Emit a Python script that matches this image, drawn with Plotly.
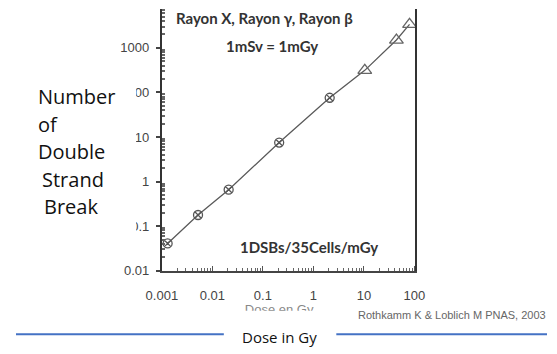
import plotly.graph_objects as go

# ---- data ----
circle_dose = [0.0013, 0.0052, 0.021, 0.21, 2.1]
circle_dsb = [0.041, 0.178, 0.66, 7.5, 76]
triangle_dose = [10.4, 44, 80]
triangle_dsb = [313, 1500, 3360]

x_tickvals = [0.001, 0.01, 0.1, 1, 10, 100]
x_ticktext = ["0.001", "0.01", "0.1", "1", "10", "100"]
y_tickvals = [0.01, 0.1, 1, 10, 100, 1000]
y_ticktext = ["0.01", "0.1", "1", "10", "100", "1000"]

W, H = 557, 354


def px(x):
    return x / W


def py(y):
    return 1 - y / H


line_x = circle_dose + triangle_dose
line_y = circle_dsb + triangle_dsb

fig = go.Figure()
fig.add_trace(go.Scatter(x=line_x, y=line_y, mode="lines",
                         line=dict(color="#5a5a5a", width=1.3),
                         showlegend=False, hoverinfo="skip"))
fig.add_trace(go.Scatter(x=circle_dose, y=circle_dsb, mode="markers",
                         marker=dict(symbol="circle-x-open", size=9,
                                     color="#555555", line=dict(width=1.3)),
                         showlegend=False))
fig.add_trace(go.Scatter(x=triangle_dose, y=triangle_dsb, mode="markers",
                         marker=dict(symbol="triangle-up-open", size=12,
                                     color="#666666", line=dict(width=1.3)),
                         showlegend=False))

# the original figure's x-axis title, cut off by the scan (clipped in a small hidden subplot)
fig.add_trace(go.Scatter(x=[0.5], y=[0], mode="text", text=["Dose en Gy"],
                         textposition="middle center", cliponaxis=True,
                         textfont=dict(family="Liberation Sans, Arial, sans-serif",
                                       size=13, color="#888888"),
                         xaxis="x2", yaxis="y2", showlegend=False, hoverinfo="skip"))

# minor tick positions (2..9 within each decade)
x_minor = [k * 10.0 ** e for e in range(-3, 2) for k in range(2, 10)]
y_minor = [k * 10.0 ** e for e in range(-2, 4) for k in range(2, 10)]

tickfont = dict(family="Liberation Sans, Arial, sans-serif", size=13, color="#444444")

fig.update_layout(
    width=W, height=H,
    margin=dict(l=0, r=0, t=0, b=0),
    paper_bgcolor="white", plot_bgcolor="rgba(0,0,0,0)",
    xaxis=dict(type="log", range=[-3, 2.02], domain=[px(153), px(419)],
               tickvals=x_tickvals, ticktext=x_ticktext, tickfont=tickfont,
               ticks="inside", ticklen=5, tickcolor="#555", tickwidth=1,
               minor=dict(tickvals=x_minor, ticks="inside", ticklen=3,
                          tickcolor="#666", showgrid=False),
               showgrid=False, zeroline=False, showline=True,
               linecolor="#444444", linewidth=1.5, mirror=False,
               ticklabelstandoff=12),
    yaxis=dict(type="log", range=[-2, 3.877], domain=[py(277), py(9)],
               tickvals=y_tickvals, ticktext=y_ticktext, tickfont=tickfont,
               ticks="outside", ticklen=4, tickcolor="#444", tickwidth=1.5,
               minor=dict(tickvals=y_minor, ticks="inside", ticklen=3,
                          tickcolor="#666", showgrid=False),
               showgrid=False, zeroline=False, showline=True,
               linecolor="#333333", linewidth=2, mirror=True,
               ticklabelstandoff=4),
    xaxis2=dict(domain=[px(200), px(352)], range=[0, 1], visible=False,
                anchor="y2", fixedrange=True),
    yaxis2=dict(domain=[py(318), py(306)], range=[0, 1], visible=False,
                anchor="x2", fixedrange=True),
)

# white box (the slide text box) that hides the start of some tick labels
fig.add_shape(type="rect", xref="paper", yref="paper",
              x0=0, x1=px(126), y0=py(245), y1=py(76),
              fillcolor="white", line=dict(width=0), layer="above")

bold = "Lato, Liberation Sans, Arial, sans-serif"
anns = [
    dict(text="<b>Rayon X, Rayon γ, Rayon β</b>", x=px(261), y=py(18), size=15),
    dict(text="<b>1mSv = 1mGy</b>", x=px(269), y=py(47), size=15),
    dict(text="<b>1DSBs/35Cells/mGy</b>", x=px(307), y=py(253), size=15),
]
for a in anns:
    fig.add_annotation(text=a["text"], x=a["x"], y=a["y"], xref="paper", yref="paper",
                       showarrow=False, xanchor="center", yanchor="middle",
                       font=dict(family=bold, size=a["size"], color="#333333"))

# left label lines
left_lines = [("Number", 21, 98.5), ("of", 21, 127), ("Double", 21, 155),
              ("Strand", 25, 183.5), ("Break", 27, 211.5)]
for t, xx, yy in left_lines:
    fig.add_annotation(text=t, x=px(xx), y=py(yy), xref="paper", yref="paper",
                       showarrow=False, xanchor="left", yanchor="middle",
                       font=dict(family="Open Sans, sans-serif", size=20, color="#111111"))

# citation
fig.add_annotation(text="Rothkamm K & Loblich M PNAS, 2003", x=px(357), y=py(322),
                   xref="paper", yref="paper", showarrow=False,
                   xanchor="left", yanchor="middle",
                   font=dict(family="Liberation Sans, Arial", size=11, color="#666666"))

# bottom slide title with blue rules
fig.add_shape(type="line", xref="paper", yref="paper", x0=0, x1=px(218),
              y0=py(342), y1=py(342), line=dict(color="#4472C4", width=2))
fig.add_shape(type="line", xref="paper", yref="paper", x0=px(336), x1=1,
              y0=py(342), y1=py(342), line=dict(color="#4472C4", width=2))
fig.add_annotation(text="Dose in Gy", x=px(276), y=py(345), xref="paper", yref="paper",
                   showarrow=False, xanchor="center", yanchor="middle",
                   font=dict(family="Open Sans, sans-serif", size=15, color="#111111"))

fig.write_html("out.html")
